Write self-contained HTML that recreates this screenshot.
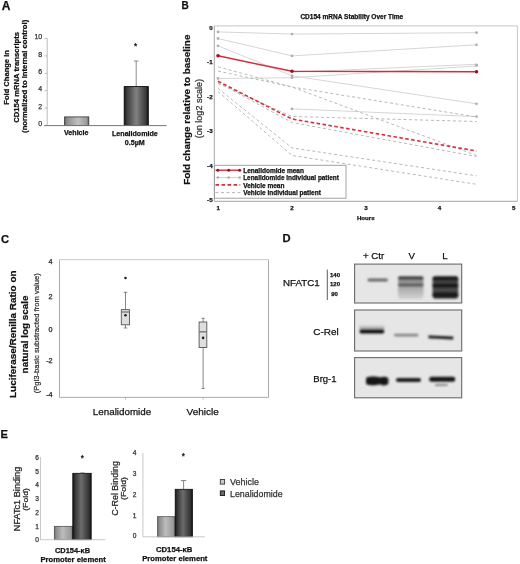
<!DOCTYPE html>
<html><head><meta charset="utf-8">
<style>
html,body{margin:0;padding:0;background:#fff;width:520px;height:564px;overflow:hidden}
svg{display:block;filter:blur(0.4px)}
text{font-family:"Liberation Sans",sans-serif;fill:#111;stroke:#111;stroke-width:0.25px}
.g3 text,text.g3{fill:#333;stroke:#333}
.g2 text{fill:#222;stroke:#222}
.b{font-weight:bold}
</style></head><body>
<svg width="520" height="564" viewBox="0 0 520 564">
<defs>
<linearGradient id="smear" x1="0" x2="0" y1="0" y2="1"><stop offset="0" stop-color="#e6e6e6"/><stop offset="1" stop-color="#8a8a8a"/></linearGradient>
<linearGradient id="smearV" x1="0" x2="0" y1="0" y2="1"><stop offset="0" stop-color="#8a8a8a"/><stop offset="0.45" stop-color="#a8a8a8"/><stop offset="1" stop-color="#d4d4d4"/></linearGradient>
<filter id="bl" x="-10%" y="-30%" width="120%" height="160%"><feGaussianBlur stdDeviation="0.9"/></filter>
<linearGradient id="gA1" x1="0" x2="1" y1="0" y2="0">
<stop offset="0" stop-color="#666"/><stop offset="0.1" stop-color="#8e8e8e"/><stop offset="0.55" stop-color="#c0c0c0"/><stop offset="0.9" stop-color="#9c9c9c"/><stop offset="1" stop-color="#666"/>
</linearGradient>
<linearGradient id="gA2" x1="0" x2="1" y1="0" y2="0">
<stop offset="0" stop-color="#111"/><stop offset="0.1" stop-color="#3a3a3a"/><stop offset="0.5" stop-color="#828282"/><stop offset="0.9" stop-color="#3a3a3a"/><stop offset="1" stop-color="#111"/>
</linearGradient>
<linearGradient id="gE1" x1="0" x2="1" y1="0" y2="0">
<stop offset="0" stop-color="#6a6a6a"/><stop offset="0.1" stop-color="#8c8c8c"/><stop offset="0.45" stop-color="#bcbcbc"/><stop offset="0.88" stop-color="#9a9a9a"/><stop offset="1" stop-color="#6a6a6a"/>
</linearGradient>
<linearGradient id="gE2" x1="0" x2="1" y1="0" y2="0">
<stop offset="0" stop-color="#111"/><stop offset="0.1" stop-color="#333"/><stop offset="0.45" stop-color="#6c6c6c"/><stop offset="0.88" stop-color="#333"/><stop offset="1" stop-color="#111"/>
</linearGradient>
</defs>

<!-- ============ PANEL A ============ -->
<text class="b" x="1.8" y="9.9" font-size="12">A</text>
<g font-weight="bold" font-size="7.6">
<text transform="translate(9.4,104.7) rotate(-90)" textLength="54.6" lengthAdjust="spacingAndGlyphs">Fold Change in</text>
<text transform="translate(18.6,122.8) rotate(-90)" textLength="90.8" lengthAdjust="spacingAndGlyphs">CD154 mRNA transcripts</text>
<text transform="translate(27.3,132.9) rotate(-90)" textLength="113.1" lengthAdjust="spacingAndGlyphs">(normalized to internal control)</text>
</g>
<g font-size="7" text-anchor="end" class="g3">
<text x="42.2" y="125.8">0</text>
<text x="42.2" y="108.6">2</text>
<text x="42.2" y="91.3">4</text>
<text x="42.2" y="74.0">6</text>
<text x="42.2" y="56.7">8</text>
<text x="42.2" y="39.4">10</text>
</g>
<g stroke="#aaa" stroke-width="0.8" fill="none">
<line x1="47.2" y1="38.3" x2="47.2" y2="125.4"/>
<line x1="44.5" y1="38.5" x2="47.2" y2="38.5"/>
<line x1="44.5" y1="55.9" x2="47.2" y2="55.9"/>
<line x1="44.5" y1="73.3" x2="47.2" y2="73.3"/>
<line x1="44.5" y1="90.6" x2="47.2" y2="90.6"/>
<line x1="44.5" y1="108" x2="47.2" y2="108"/>
</g>
<rect x="64.6" y="116.9" width="24.2" height="8.5" fill="url(#gA1)" stroke="#333" stroke-width="0.8"/>
<line x1="136.2" y1="61" x2="136.2" y2="86.5" stroke="#8c8c8c" stroke-width="1"/>
<line x1="134" y1="61" x2="138.5" y2="61" stroke="#8c8c8c" stroke-width="1"/>
<rect x="124.2" y="86.6" width="24.1" height="38.8" fill="url(#gA2)" stroke="#0a0a0a" stroke-width="0.9"/>
<line x1="44.2" y1="125.6" x2="166.5" y2="125.6" stroke="#777" stroke-width="1"/>
<text x="135.5" y="48.6" font-size="8.2" text-anchor="middle">*</text>
<g font-weight="bold" font-size="7.1">
<text x="64" y="135.3" textLength="24.5" lengthAdjust="spacingAndGlyphs">Vehicle</text>
<text x="112" y="136.4" textLength="45.8" lengthAdjust="spacingAndGlyphs">Lenalidomide</text>
<text x="124.8" y="145.4" textLength="19.9" lengthAdjust="spacingAndGlyphs">0.5µM</text>
</g>

<!-- ============ PANEL B ============ -->
<text class="b" x="181.5" y="9" font-size="10">B</text>
<text class="b" x="300.4" y="19.3" font-size="6.6" textLength="102.8" lengthAdjust="spacingAndGlyphs">CD154 mRNA Stability Over Time</text>
<g fill="none" stroke-width="1">
<path d="M214.3,25.9 H517.4 V201.3" stroke="#c6c6c6"/>
<path d="M214.3,25.9 V201.3 H517.4" stroke="#a4a4a4"/>
</g>
<g font-weight="bold" font-size="9.9">
<text transform="translate(189.8,184.8) rotate(-90)" textLength="150.2" lengthAdjust="spacingAndGlyphs">Fold change relative to baseline</text>
</g>
<text transform="translate(202.4,138.2) rotate(-90)" font-size="8.9" class="g3" textLength="59.2" lengthAdjust="spacingAndGlyphs">(on log2 scale)</text>
<g font-weight="bold" font-size="6.2" text-anchor="end">
<text x="212.6" y="29.5">0</text>
<text x="212.6" y="64.2">-1</text>
<text x="212.6" y="98.7">-2</text>
<text x="212.6" y="133.1">-3</text>
<text x="212.6" y="167.7">-4</text>
<text x="212.6" y="202.3">-5</text>
</g>
<g font-weight="bold" font-size="6.2" text-anchor="middle">
<text x="218.3" y="210">1</text>
<text x="291.9" y="210">2</text>
<text x="366" y="210">3</text>
<text x="439.6" y="210">4</text>
<text x="513.7" y="210">5</text>
<text x="365.8" y="220.2" textLength="17.7" lengthAdjust="spacingAndGlyphs">Hours</text>
</g>
<!-- Lenalidomide individual -->
<g stroke="#d6d6d6" stroke-width="1" fill="none">
<polyline points="218,31.9 292,34.1 476.5,32.7"/>
<polyline points="218,38.5 292,55.9 476.5,44.8"/>
<polyline points="218,45.8 292,75.8 476.5,103.8"/>
<polyline points="218,78.5 292,77.7 476.5,66"/>
<polyline points="292,108.9 476.5,116.6"/>
<polyline points="292,72.2 476.5,64.3"/>
</g>
<g fill="#b0b0b0">
<circle cx="218" cy="31.9" r="1.4"/><circle cx="292" cy="34.1" r="1.4"/><circle cx="476.5" cy="32.7" r="1.4"/>
<circle cx="218" cy="38.5" r="1.4"/><circle cx="292" cy="55.9" r="1.4"/><circle cx="476.5" cy="44.8" r="1.4"/>
<circle cx="218" cy="45.8" r="1.4"/><circle cx="292" cy="75.8" r="1.4"/><circle cx="476.5" cy="103.8" r="1.4"/>
<circle cx="218" cy="78.5" r="1.4"/><circle cx="292" cy="77.7" r="1.4"/><circle cx="476.5" cy="65.2" r="1.6"/>
<circle cx="292" cy="108.9" r="1.4"/><circle cx="476.5" cy="116.6" r="1.4"/>
</g>
<!-- Vehicle individual -->
<g stroke="#b8b8b8" stroke-width="1" fill="none" stroke-dasharray="3,2.5">
<polyline points="218,66.8 292,87 476.5,117"/>
<polyline points="218,71.1 292,87 476.5,155.5"/>
<polyline points="218,83.5 292,116.5 476.5,121.5"/>
<polyline points="218,82.5 292,122.5 476.5,156.5"/>
<polyline points="218,88.4 292,147.9 476.5,175.8"/>
<polyline points="218,91.5 292,155.4 476.5,184.3"/>
</g>
<!-- means -->
<polyline points="218,81.2 292,119 476.5,151" stroke="#dd2c3c" stroke-width="1.6" fill="none" stroke-dasharray="3.6,2.4"/>
<polyline points="218,55.8 292,71.3 476.5,71.7" stroke="#d82a38" stroke-width="1.4" fill="none"/>
<g fill="#a01020"><circle cx="218" cy="55.8" r="1.8"/><circle cx="292" cy="71.3" r="1.8"/><circle cx="476.5" cy="71.7" r="1.8"/></g>
<!-- legend -->
<rect x="214.5" y="165.3" width="131.5" height="32.9" fill="#fff" stroke="#999" stroke-width="0.9"/>
<line x1="215.5" y1="170.2" x2="240.3" y2="170.2" stroke="#d82a38" stroke-width="1.4"/>
<g fill="#a01020"><circle cx="217.8" cy="170.2" r="1.5"/><circle cx="228.7" cy="170.2" r="1.5"/><circle cx="239.7" cy="170.2" r="1.5"/></g>
<line x1="215.5" y1="177.6" x2="240.3" y2="177.6" stroke="#cfcfcf" stroke-width="1"/>
<g fill="#b0b0b0"><circle cx="217.8" cy="177.6" r="1.3"/><circle cx="228.7" cy="177.6" r="1.3"/><circle cx="239.7" cy="177.6" r="1.3"/></g>
<line x1="215.5" y1="184.9" x2="240.3" y2="184.9" stroke="#dd2c3c" stroke-width="1.6" stroke-dasharray="3.6,2.4"/>
<line x1="215.5" y1="192.6" x2="240.3" y2="192.6" stroke="#b8b8b8" stroke-width="1" stroke-dasharray="3,2.5"/>
<g font-weight="bold" font-size="6.5">
<text x="243.2" y="172.6">Lenalidomide mean</text>
<text x="243.2" y="180.2" textLength="95.7" lengthAdjust="spacingAndGlyphs">Lenalidomide individual patient</text>
<text x="243.2" y="187.5">Vehicle mean</text>
<text x="243.2" y="195.2">Vehicle individual patient</text>
</g>

<!-- ============ PANEL C ============ -->
<text class="b" x="1" y="242.7" font-size="11.2">C</text>
<g font-weight="bold" font-size="9.9">
<text transform="translate(15.6,398) rotate(-90)" textLength="127.6" lengthAdjust="spacingAndGlyphs">Luciferase/Renilla Ratio on</text>
<text transform="translate(27.6,373.4) rotate(-90)" textLength="78" lengthAdjust="spacingAndGlyphs">natural log scale</text>
</g>
<text transform="translate(39,393.3) rotate(-90)" font-size="7.6" class="g3" textLength="120" lengthAdjust="spacingAndGlyphs">(Pgl3-basic substracted from value)</text>
<g font-size="7.2" text-anchor="end" class="g2">
<text x="52.6" y="264.3">4</text>
<text x="52.6" y="298.6">2</text>
<text x="52.6" y="331.5">0</text>
<text x="52.6" y="363.3">-2</text>
<text x="52.6" y="397.2">-4</text>
</g>
<path d="M59.5,259.7 V397.4 H268.5 V259.7" fill="none" stroke="#aaa" stroke-width="1"/>
<path d="M59.5,259.7 H268.5" fill="none" stroke="#c8c8c8" stroke-width="1"/>
<g stroke="#aaa" stroke-width="0.8"><line x1="125.5" y1="397.4" x2="125.5" y2="399.6"/><line x1="203.1" y1="397.4" x2="203.1" y2="399.6"/></g>
<!-- len boxplot -->
<g stroke="#555" stroke-width="0.7" fill="none">
<line x1="125.5" y1="292.3" x2="125.5" y2="309.6"/>
<line x1="123.7" y1="292.3" x2="127.3" y2="292.3"/>
<line x1="125.5" y1="324.8" x2="125.5" y2="328"/>
<line x1="123.7" y1="328" x2="127.3" y2="328"/>
<rect x="121.3" y="309.6" width="8.2" height="15.2" fill="#dedede" stroke-width="0.9"/>
<line x1="121.3" y1="312" x2="129.5" y2="312" stroke="#777" stroke-width="1.3"/>
</g>
<circle cx="125.5" cy="278" r="1.3" fill="#222"/>
<circle cx="125.5" cy="315.2" r="1.3" fill="#222"/>
<!-- vehicle boxplot -->
<g stroke="#555" stroke-width="0.7" fill="none">
<line x1="203.1" y1="318.3" x2="203.1" y2="322"/>
<line x1="201.5" y1="318.3" x2="204.7" y2="318.3"/>
<line x1="203.1" y1="347.5" x2="203.1" y2="388.5"/>
<line x1="201.5" y1="388.5" x2="204.7" y2="388.5"/>
<rect x="199.1" y="322" width="7.7" height="25.5" fill="#dedede" stroke-width="0.9"/>
<line x1="199.1" y1="331.8" x2="206.8" y2="331.8" stroke="#777" stroke-width="1.4"/>
</g>
<circle cx="203.1" cy="337.9" r="1.3" fill="#222"/>
<g font-size="9.9">
<text x="92.8" y="415.2" textLength="58.4" lengthAdjust="spacingAndGlyphs">Lenalidomide</text>
<text x="186.6" y="415.2" textLength="32.1" lengthAdjust="spacingAndGlyphs">Vehicle</text>
</g>

<!-- ============ PANEL D ============ -->
<text class="b" x="282.5" y="241.7" font-size="11.2">D</text>
<g font-size="9.7">
<text x="363" y="259.1" textLength="21.3" lengthAdjust="spacingAndGlyphs">+ Ctr</text>
<text x="408.6" y="259.1">V</text>
<text x="442.2" y="259.1">L</text>
<text x="283" y="285.9" textLength="36.6" lengthAdjust="spacingAndGlyphs">NFATC1</text>
<text x="313.3" y="335.1" textLength="25.4" lengthAdjust="spacingAndGlyphs">C-Rel</text>
<text x="313.3" y="381.5" textLength="23.3" lengthAdjust="spacingAndGlyphs">Brg-1</text>
</g>
<line x1="327.3" y1="269.6" x2="327.3" y2="300" stroke="#333" stroke-width="0.8"/>
<g font-weight="bold" font-size="6">
<text x="330" y="277.3">140</text>
<text x="330" y="285.6">120</text>
<text x="331.2" y="296.2">90</text>
</g>
<!-- blots -->
<rect x="354.6" y="264.1" width="107.1" height="38.9" fill="#e6e6e6" stroke="#6a6a6a" stroke-width="1.1"/>
<rect x="354.6" y="310" width="107.1" height="41" fill="#e6e6e6" stroke="#6a6a6a" stroke-width="1.1"/>
<rect x="354.6" y="357.6" width="107.1" height="40.2" fill="#e6e6e6" stroke="#6a6a6a" stroke-width="1.1"/>
<g filter="url(#bl)">
<rect x="367.6" y="278.6" width="20.2" height="2.9" rx="1.3" fill="#666"/>
<rect x="398.1" y="278" width="25.4" height="21" rx="3" fill="url(#smearV)"/>
<rect x="398.1" y="276.3" width="25.4" height="3.4" rx="1.5" fill="#444"/>
<rect x="398.1" y="283.5" width="25.4" height="3" rx="1.4" fill="#585858"/>
<rect x="432.5" y="276.2" width="25.8" height="22.6" rx="3" fill="#4a4a4a"/>
<rect x="432.5" y="276.4" width="25.8" height="4.2" rx="2" fill="#161616"/>
<rect x="432.5" y="283.3" width="25.8" height="4.7" rx="2" fill="#1e1e1e"/>
<rect x="432.5" y="292" width="25.8" height="5.8" rx="2.8" fill="#1e1e1e"/>
<rect x="359.5" y="324.5" width="24.8" height="6" rx="1.5" fill="url(#smear)"/>
<rect x="359.5" y="329.3" width="24.8" height="4.2" rx="2" fill="#0e0e0e"/>
<rect x="394.1" y="333.8" width="24.2" height="2.8" rx="1.4" fill="#858585"/>
<path d="M428.4,335.4 L453.2,336.6 L453.2,339.4 L428.4,338.2 Z" fill="#1c1c1c"/>
<path d="M366,378 C370,375.8 377,376.5 380,377.5 C383,376.2 387,376.5 388.4,378.5 L388.4,383.5 C386,386 383,386 380,384.2 C376,385.5 370,386 366,384 Z" fill="#151515"/>
<rect x="396" y="377.9" width="25" height="4" rx="2" fill="#1c1c1c"/>
<rect x="429.2" y="376.7" width="26" height="5" rx="2.5" fill="#181818"/>
<rect x="435" y="384" width="12.7" height="1.8" rx="0.9" fill="#7a7a7a"/>
</g>

<!-- ============ PANEL E ============ -->
<text class="b" x="0.5" y="438.4" font-size="11.2">E</text>
<!-- E1 -->
<g font-size="8.8" class="g2">
<text transform="translate(19.9,531.2) rotate(-90)" textLength="64.5" lengthAdjust="spacingAndGlyphs">NFATc1  Binding</text>
<text transform="translate(27.7,510.8) rotate(-90)" font-size="8" textLength="22.8" lengthAdjust="spacingAndGlyphs">(Fold)</text>
</g>
<g font-size="6.6" text-anchor="end" class="g3">
<text x="38.8" y="542.2">0</text>
<text x="38.8" y="528.5">1</text>
<text x="38.8" y="514.7">2</text>
<text x="38.8" y="501">3</text>
<text x="38.8" y="487.2">4</text>
<text x="38.8" y="473.5">5</text>
<text x="38.8" y="459.7">6</text>
</g>
<line x1="40.5" y1="457" x2="40.5" y2="539.7" stroke="#bbb" stroke-width="0.8"/>
<rect x="54.3" y="526.3" width="18.5" height="13.4" fill="url(#gE1)" stroke="#444" stroke-width="0.7"/>
<rect x="72.8" y="473.3" width="18.4" height="66.4" fill="url(#gE2)" stroke="#0a0a0a" stroke-width="0.8"/>
<line x1="80.5" y1="472.6" x2="84.5" y2="472.6" stroke="#777" stroke-width="0.6"/>
<line x1="40" y1="539.7" x2="105.4" y2="539.7" stroke="#bbb" stroke-width="0.8"/>
<text x="82.3" y="461.3" font-size="8.2" text-anchor="middle">*</text>
<g font-weight="bold" font-size="7.4">
<text x="55" y="553.1" textLength="35.1" lengthAdjust="spacingAndGlyphs">CD154-κB</text>
<text x="40.5" y="561.6" textLength="65.2" lengthAdjust="spacingAndGlyphs">Promoter element</text>
</g>
<!-- E2 -->
<g font-size="8.8" class="g2">
<text transform="translate(118.4,515.8) rotate(-90)" textLength="54.8" lengthAdjust="spacingAndGlyphs">C-Rel Binding</text>
<text transform="translate(125.9,500) rotate(-90)" font-size="8" textLength="23" lengthAdjust="spacingAndGlyphs">(Fold)</text>
</g>
<g font-size="6.6" text-anchor="end" class="g3">
<text x="136.4" y="538">0</text>
<text x="136.4" y="518.2">1</text>
<text x="136.4" y="496.9">2</text>
<text x="136.4" y="476.4">3</text>
<text x="136.4" y="455.1">4</text>
</g>
<line x1="142.9" y1="453.2" x2="142.9" y2="536.8" stroke="#bbb" stroke-width="0.8"/>
<line x1="183.6" y1="480.6" x2="183.6" y2="489" stroke="#666" stroke-width="0.8"/>
<line x1="181" y1="480.6" x2="186.2" y2="480.6" stroke="#666" stroke-width="0.8"/>
<rect x="157.6" y="516.7" width="17.6" height="20.1" fill="url(#gE1)" stroke="#444" stroke-width="0.7"/>
<rect x="175.2" y="489.3" width="17.2" height="47.5" fill="url(#gE2)" stroke="#0a0a0a" stroke-width="0.8"/>
<line x1="142.9" y1="536.8" x2="204.8" y2="536.8" stroke="#bbb" stroke-width="0.8"/>
<text x="183.4" y="459" font-size="8.2" text-anchor="middle">*</text>
<g font-weight="bold" font-size="7.4">
<text x="156" y="552.4" textLength="36.4" lengthAdjust="spacingAndGlyphs">CD154-κB</text>
<text x="142.2" y="561.4" textLength="65.2" lengthAdjust="spacingAndGlyphs">Promoter element</text>
</g>
<!-- legend E -->
<rect x="220.3" y="479.5" width="4.3" height="4.6" fill="#cacaca" stroke="#3a3a3a" stroke-width="0.9"/>
<rect x="220.3" y="490.9" width="4.3" height="4.6" fill="#6a6a6a" stroke="#151515" stroke-width="0.9"/>
<g font-size="8.8" class="g3">
<text x="230" y="485.1" textLength="28.9" lengthAdjust="spacingAndGlyphs">Vehicle</text>
<text x="230" y="496.9" textLength="52.6" lengthAdjust="spacingAndGlyphs">Lenalidomide</text>
</g>
</svg>
</body></html>
